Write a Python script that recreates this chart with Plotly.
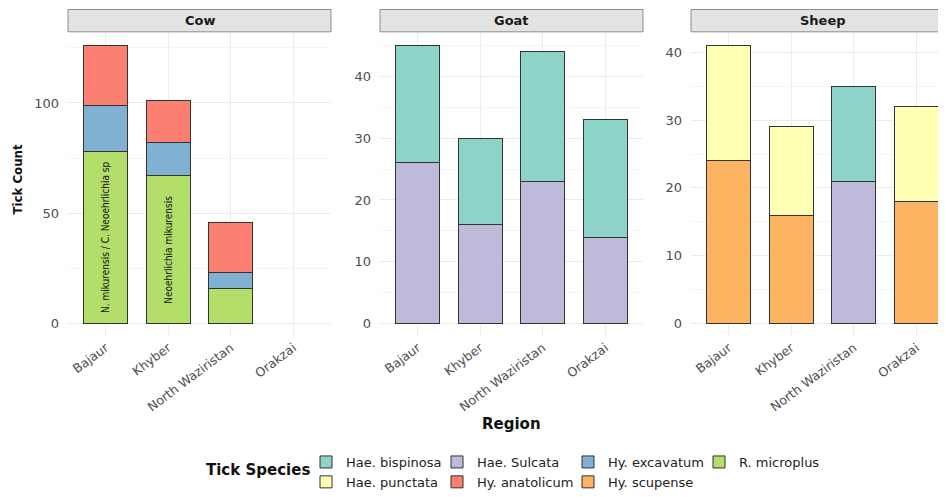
import plotly.graph_objects as go

# ---------------- data ----------------
regions = ["Bajaur", "Khyber", "North Waziristan", "Orakzai"]
hosts = ["Cow", "Goat", "Sheep"]

# Cow
cow_r_microplus = [78, 67, 16, None]
cow_hy_excavatum = [21, 15, 7, None]
cow_hy_anatolicum = [27, 19, 23, None]
# Goat
goat_hae_sulcata = [26, 16, 23, 14]
goat_hae_bispinosa = [19, 14, 21, 19]
# Sheep
sheep_hy_scupense = [24, 16, None, 18]
sheep_hae_sulcata = [None, None, 21, None]
sheep_hae_punctata = [17, 13, None, 14]
sheep_hae_bispinosa = [None, None, 14, None]

cow_bar_labels = ["N. mikurensis / C. Neoehrlichia sp", "Neoehrlichia mikurensis", "", ""]

species_colors = {
    "Hae. bispinosa": "#8DD3C7",
    "Hae. punctata": "#FFFFB3",
    "Hae. Sulcata": "#BEBADA",
    "Hy. anatolicum": "#FB8072",
    "Hy. excavatum": "#80B1D3",
    "Hy. scupense": "#FDB462",
    "R. microplus": "#B3DE69",
}
# stacking order bottom -> top
stack_order = ["R. microplus", "Hy. scupense", "Hy. excavatum", "Hy. anatolicum",
               "Hae. Sulcata", "Hae. punctata", "Hae. bispinosa"]
# legend columns (groups) and ranks
legend_group = {
    "Hae. bispinosa": "c1", "Hae. punctata": "c1",
    "Hae. Sulcata": "c2", "Hy. anatolicum": "c2",
    "Hy. excavatum": "c3", "Hy. scupense": "c3",
    "R. microplus": "c4",
}
legend_rank = {
    "Hae. bispinosa": 1, "Hae. punctata": 2,
    "Hae. Sulcata": 3, "Hy. anatolicum": 4,
    "Hy. excavatum": 5, "Hy. scupense": 6,
    "R. microplus": 7,
}

panel_data = {
    "Cow": {"R. microplus": cow_r_microplus, "Hy. excavatum": cow_hy_excavatum,
            "Hy. anatolicum": cow_hy_anatolicum},
    "Goat": {"Hae. Sulcata": goat_hae_sulcata, "Hae. bispinosa": goat_hae_bispinosa},
    "Sheep": {"Hy. scupense": sheep_hy_scupense, "Hae. Sulcata": sheep_hae_sulcata,
              "Hae. punctata": sheep_hae_punctata, "Hae. bispinosa": sheep_hae_bispinosa},
}

# ---------------- layout geometry ----------------
OFF = 8  # page body margin offset
W, H = 946 - OFF, 497 - OFF


def px(xs):
    return (xs - OFF) / W


def py(ys):
    return 1 - (ys - OFF) / H


x_domains = [(px(68), px(331)), (px(380), px(643)), (px(691), 1.0)]
x_ranges = [[-0.6, 3.6], [-0.6, 3.6], [-0.6, 3.472]]
y_dom = (py(340), py(32))
panel_h = 308
y_major = [50, 10, 10]
y_minor = [25, 5, 5]

FONT = "DejaVu Sans"
GRID = "#EBEBEB"
MINOR = "#F5F5F5"

fig = go.Figure()
shown = set()
for i, host in enumerate(hosts):
    xa = "x" if i == 0 else f"x{i + 1}"
    ya = "y" if i == 0 else f"y{i + 1}"
    for sp in stack_order:
        if sp not in panel_data[host]:
            continue
        fig.add_trace(go.Bar(
            x=regions, y=panel_data[host][sp], name=sp,
            xaxis=xa, yaxis=ya, width=0.7,
            marker=dict(color=species_colors[sp], line=dict(color="#333333", width=1)),
            legendgroup=legend_group[sp], legendrank=legend_rank[sp],
            showlegend=sp not in shown,
        ))
        shown.add(sp)

layout = dict(
    width=W, height=H, barmode="stack",
    margin=dict(l=0, r=0, t=0, b=0),
    paper_bgcolor="white", plot_bgcolor="white",
    font=dict(family=FONT, size=12, color="#4D4D4D"),
    showlegend=True,
    legend=dict(
        orientation="h", x=px(306), xanchor="left", y=py(451), yanchor="top",
        traceorder="grouped", tracegroupgap=0,
        entrywidth=86, entrywidthmode="pixels",
        font=dict(size=13, color="#222222"),
        bgcolor="rgba(0,0,0,0)",
    ),
)

shapes = []
annotations = []
for i, host in enumerate(hosts):
    key = "" if i == 0 else str(i + 1)
    xa = "x" if i == 0 else f"x{i + 1}"
    ya = "y" if i == 0 else f"y{i + 1}"
    totals = [sum(v[j] for v in panel_data[host].values() if v[j] is not None)
              for j in range(len(regions))]
    ymax = max(totals)
    layout["xaxis" + key] = dict(
        domain=list(x_domains[i]), anchor=ya, type="category",
        categoryorder="array", categoryarray=regions, range=x_ranges[i],
        showgrid=True, gridcolor=GRID, gridwidth=1, ticks="",
        tickangle=-37, tickfont=dict(size=12.5, color="#4D4D4D"),
        showline=False, zeroline=False, automargin=False, fixedrange=True,
    )
    layout["yaxis" + key] = dict(
        domain=list(y_dom), anchor=xa, range=[-0.05 * ymax, 1.05 * ymax],
        dtick=y_major[i], tick0=0, showgrid=True, gridcolor=GRID, gridwidth=1,
        minor=dict(dtick=y_minor[i], tick0=0, showgrid=True, gridcolor=MINOR, gridwidth=1),
        zeroline=False, showline=False, ticks="", ticklabelstandoff=8,
        tickfont=dict(size=13, color="#4D4D4D"), automargin=False, fixedrange=True,
    )
    # facet strip
    shapes.append(dict(
        type="rect", xref=f"{xa} domain", yref=f"{ya} domain",
        x0=0, x1=1, y0=1.0, y1=1 + 22.5 / panel_h,
        fillcolor="#E3E3E3", line=dict(color="#8C8C8C", width=1), layer="above",
    ))
    annotations.append(dict(
        xref=xa, yref=f"{ya} domain", x=1.5, y=1 + 11.25 / panel_h,
        text=f"<b>{host}</b>", showarrow=False,
        font=dict(size=13, color="#1A1A1A"), xanchor="center", yanchor="middle",
    ))

# labels inside Cow bars
for j, lab in enumerate(cow_bar_labels):
    if lab and cow_r_microplus[j] is not None:
        annotations.append(dict(
            xref="x", yref="y", x=regions[j], y=cow_r_microplus[j] / 2,
            text=lab, textangle=-90, showarrow=False,
            font=dict(family="DejaVu Sans Condensed", size=10, color="#111111"),
        ))

# axis titles and legend title
annotations.append(dict(
    xref="paper", yref="paper", x=px(18), y=py(181), text="<b>Tick Count</b>",
    textangle=-90, showarrow=False, font=dict(size=11.8, color="#111111"),
    xanchor="center", yanchor="middle",
))
annotations.append(dict(
    xref="paper", yref="paper", x=px(511), y=py(427), text="<b>Region</b>",
    showarrow=False, font=dict(size=15, color="#111111"),
    xanchor="center", yanchor="middle",
))
annotations.append(dict(
    xref="paper", yref="paper", x=px(257.5), y=py(474), text="<b>Tick Species</b>",
    showarrow=False, font=dict(size=15, color="#111111"),
    xanchor="center", yanchor="middle",
))

layout["shapes"] = shapes
layout["annotations"] = annotations
fig.update_layout(**layout)
fig.write_html("out.html")
